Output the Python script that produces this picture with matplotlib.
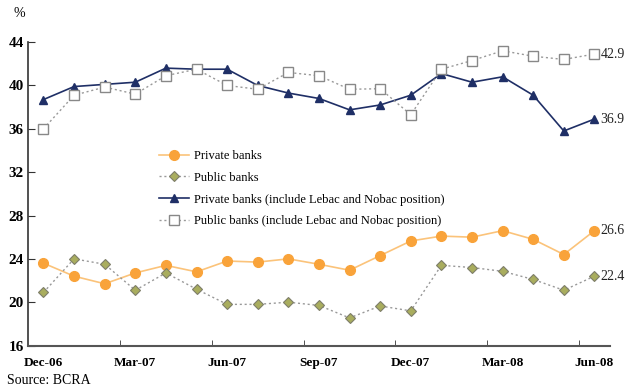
import matplotlib.pyplot as plt

months = ['Dec-06', 'Jan-07', 'Feb-07', 'Mar-07', 'Apr-07', 'May-07', 'Jun-07',
          'Jul-07', 'Aug-07', 'Sep-07', 'Oct-07', 'Nov-07', 'Dec-07', 'Jan-08',
          'Feb-08', 'Mar-08', 'Apr-08', 'May-08', 'Jun-08']

private_banks = [23.6, 22.4, 21.7, 22.7, 23.4, 22.8, 23.8, 23.7, 24.0, 23.5,
                 22.95, 24.3, 25.65, 26.1, 26.0, 26.6, 25.8, 24.4, 26.6]
public_banks = [20.9, 24.0, 23.5, 21.1, 22.7, 21.2, 19.8, 19.8, 20.0, 19.7,
                18.55, 19.65, 19.2, 23.4, 23.2, 22.85, 22.1, 21.1, 22.4]
private_lebac = [38.7, 39.9, 40.1, 40.3, 41.6, 41.5, 41.5, 40.0, 39.3, 38.8,
                 37.75, 38.2, 39.1, 41.1, 40.3, 40.8, 39.1, 35.8, 36.9]
public_lebac = [36.0, 39.1, 39.85, 39.2, 40.9, 41.5, 40.0, 39.65, 41.2, 40.9,
                39.65, 39.7, 37.3, 41.5, 42.3, 43.2, 42.7, 42.4, 42.9]

plt.rcParams['font.family'] = ['Liberation Serif', 'DejaVu Serif']

fig = plt.figure(figsize=(6.26, 3.9), dpi=100)
ax = fig.add_axes([0.045, 0.114, 0.929, 0.778])

x = list(range(len(months)))

ax.plot(x, private_banks, color='#FBC37A', lw=1.2, marker='o', ms=7,
        mfc='#F9A33A', mec='#F9A33A', label='Private banks')
ax.plot(x, public_banks, color='#999999', lw=1, ls=(0, (1.5, 2)), marker='D', ms=5.5,
        mfc='#A9AD5E', mec='#7E7E6A', mew=0.8, label='Public banks')
ax.plot(x, private_lebac, color='#1F2F66', lw=1.2, marker='^', ms=6,
        mfc='#1F2F66', mec='#1F2F66',
        label='Private banks (include Lebac and Nobac position)')
ax.plot(x, public_lebac, color='#999999', lw=1, ls=(0, (1.5, 2)), marker='s', ms=6.5,
        mfc='white', mec='#888888', mew=1,
        label='Public banks (include Lebac and Nobac position)')

# end-of-series labels
for series in [private_banks, public_banks, private_lebac, public_lebac]:
    ax.text(x[-1] + 0.2, series[-1], f'{series[-1]:.1f}', va='center', ha='left',
            fontsize=10, color='#222222')

ax.set_xlim(-0.5, len(months) - 0.5)
ax.set_ylim(16, 44)
ax.set_yticks(range(16, 45, 4))
ax.set_yticklabels([str(v) for v in range(16, 45, 4)], fontweight='bold', fontsize=11)

ax.set_xticks(x[::3])
ax.set_xticklabels(months[::3], fontweight='bold', fontsize=9.5)
ax.set_xticks([i + 0.5 for i in range(2, len(months) - 1, 3)], minor=True)
ax.tick_params(axis='x', which='major', length=0, pad=8)
ax.tick_params(axis='x', which='minor', direction='in', length=4, color='#333333')
ax.tick_params(axis='y', direction='in', length=5, pad=3, color='#333333')

for side in ['top', 'right']:
    ax.spines[side].set_visible(False)
ax.spines['left'].set_color('#333333')
ax.spines['bottom'].set_color('#555555')
ax.spines['left'].set_linewidth(1.2)
ax.spines['bottom'].set_linewidth(1.5)

ax.legend(loc='upper left', bbox_to_anchor=(0.215, 0.665), frameon=False,
          fontsize=9, handlelength=2.4, handletextpad=0.4, labelspacing=0.78,
          borderpad=0)

fig.text(0.022, 0.965, '%', fontsize=10, va='center')
fig.text(0.011, 0.025, 'Source: BCRA', fontsize=10, va='center')

fig.savefig('out.png', dpi=100)
